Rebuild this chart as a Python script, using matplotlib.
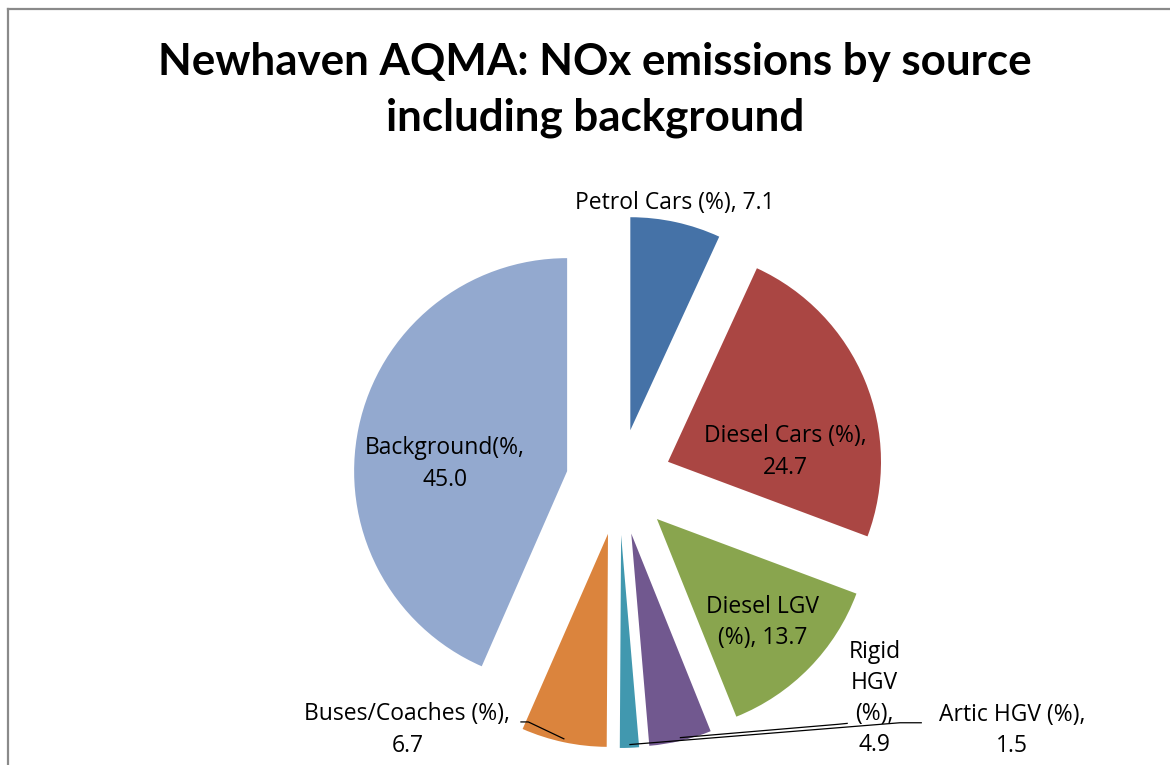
import numpy as np
import matplotlib
matplotlib.use("Agg")
import matplotlib.pyplot as plt

# NOx source shares (%) around the AQMA
sources = ["Petrol Cars (%)", "Diesel Cars (%)", "Diesel LGV (%)", "Rigid HGV (%)",
           "Artic HGV (%)", "Buses/Coaches (%)", "Background(%"]
shares = [7.1, 24.7, 13.7, 4.9, 1.5, 6.7, 45.0]
label_texts = ["Petrol Cars (%), 7.1",
               "Diesel Cars (%),\n24.7",
               "Diesel LGV\n(%), 13.7",
               "Rigid\nHGV\n(%),\n4.9",
               "Artic HGV (%),\n1.5",
               "Buses/Coaches (%),\n6.7",
               "Background(%,\n45.0"]
colors = ["#4572A7", "#AA4643", "#89A54E", "#71588F", "#4198AF", "#DB843D", "#93A9CF"]

W, H = 1170, 765
TITLE_FONT = "Lato"
LABEL_FONT = "Open Sans"

fig = plt.figure(figsize=(W / 100, H / 100), dpi=100)
ax = fig.add_axes([0, 0, 1, 1])

center = (619, H - 482)
radius = 213
explode = [53] * len(shares)

wedges, _ = ax.pie(shares, colors=colors, startangle=90, counterclock=False,
                   radius=radius, center=center, explode=explode,
                   wedgeprops=dict(linewidth=0))
ax.set_xlim(0, W)
ax.set_ylim(0, H)
ax.set_aspect("equal")
ax.axis("off")

# label placement: (angle offset from slice middle in degrees, distance from pie centre)
label_polar = [(1.0, 285), (-12.2, 169), (0.0, 201), (36.4, 335),
               (55.4, 465), (-28.5, 326), (5.9, 175)]
# leader lines: (label-side start offset, knee offset), relative to label centre
leaders = {3: ((-27, -25), (-37, -26)),
           4: ((-90, 8), (-112, 8)),
           5: ((113, 8), (121, 8))}

for i, (w, txt) in enumerate(zip(wedges, label_texts)):
    mid = np.deg2rad((w.theta1 + w.theta2) / 2)
    dth, dist = label_polar[i]
    a = mid + np.deg2rad(dth)
    lx = center[0] + dist * np.cos(a)
    ly = center[1] + dist * np.sin(a)
    ax.text(lx, ly, txt, ha="center", va="center", fontsize=16.5, family=LABEL_FONT,
            color="black", linespacing=1.4)
    if i in leaders:
        (sx, sy), (kx, ky) = leaders[i]
        wx, wy = w.center
        tx = wx + 0.985 * w.r * np.cos(mid)
        ty = wy + 0.985 * w.r * np.sin(mid)
        ax.plot([lx + sx, lx + kx, tx], [ly + sy, ly + ky, ty],
                color="black", lw=0.9, solid_capstyle="butt")

# chart-area frame (top and left edges visible)
ax.plot([8, 8], [-20, H - 9], color="#8a8a8a", lw=1.6, clip_on=False)
ax.plot([8, W + 20], [H - 9, H - 9], color="#8a8a8a", lw=1.6, clip_on=False)

fig.text(595 / W, 1 - 75 / H, "Newhaven AQMA: NOx emissions by source",
         ha="center", va="baseline", fontsize=31.6, fontweight="bold", family=TITLE_FONT)
fig.text(595 / W, 1 - 131 / H, "including background",
         ha="center", va="baseline", fontsize=31.6, fontweight="bold", family=TITLE_FONT)

fig.savefig("out.png", dpi=100, facecolor="white")
